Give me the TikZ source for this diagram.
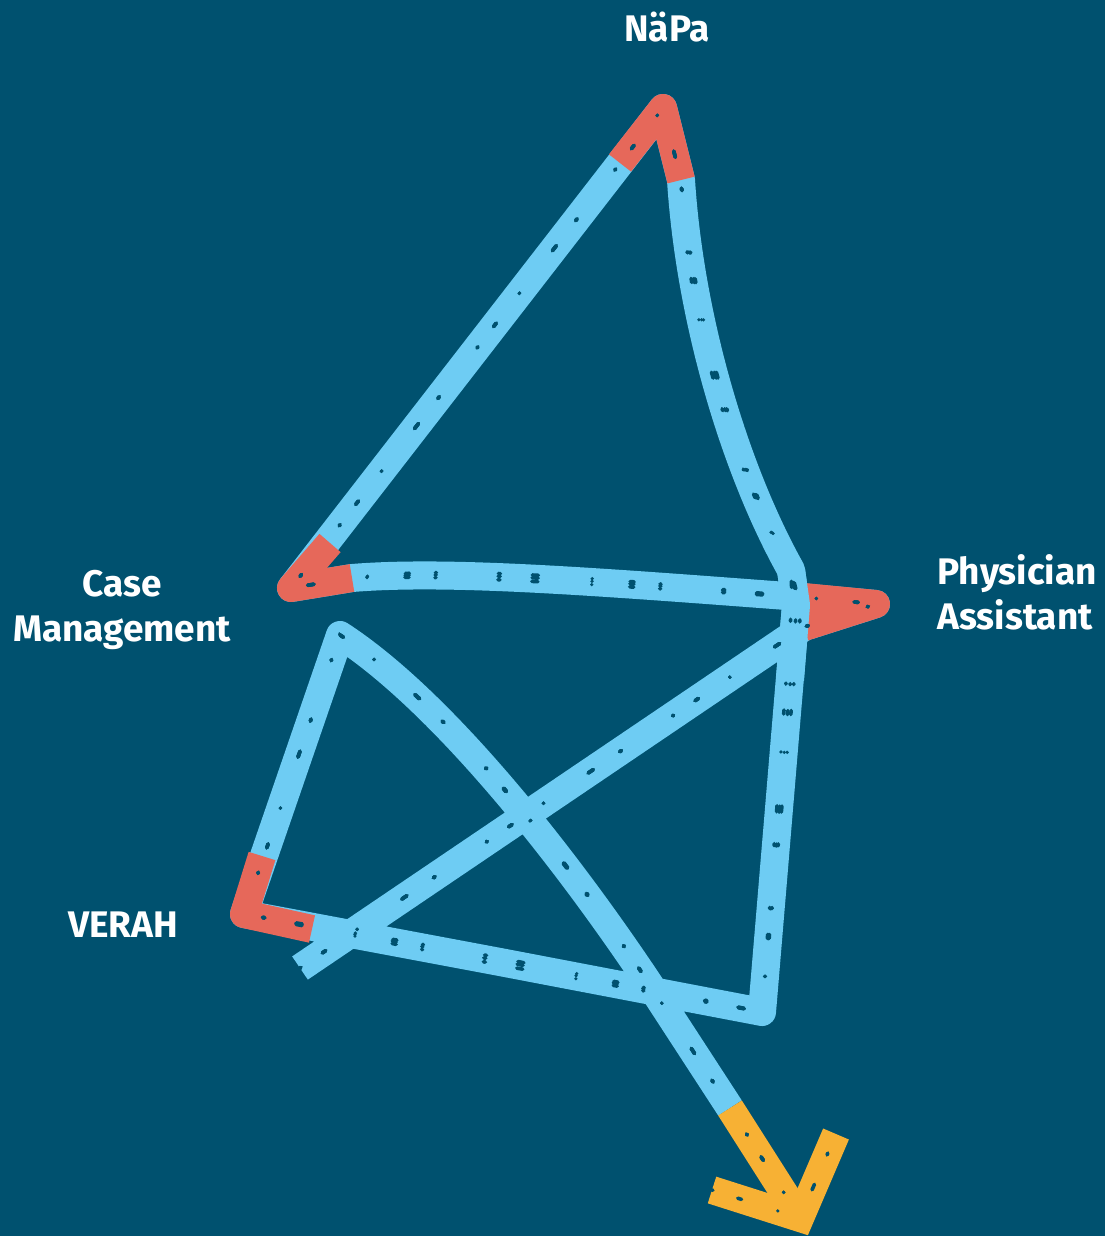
\documentclass[tikz,border=0pt]{standalone}
\usepackage{fontspec}
\setmainfont{Fira Sans}

\definecolor{board}{RGB}{0,81,111}
\definecolor{chalkblue}{RGB}{110,204,243}
\definecolor{chalkred}{RGB}{230,104,90}
\definecolor{chalkorange}{RGB}{247,177,52}

\tikzset{
    chalk/.style={line width=14pt, line join=round, line cap=butt},
    specks/.style={draw=board, line width=1.8pt, line cap=round,
        dash pattern=on 0.5pt off 13pt on 2pt off 19pt on 0pt off 27pt on 3pt off 16pt on 1pt off 31pt},
    rolename/.style={text=white, inner sep=0pt,
        font=\bfseries\fontsize{18.5}{22.5}\selectfont}
}

\begin{document}
\begin{tikzpicture}[x=0.5pt, y=-0.5pt]

    \fill[board] (0,0) rectangle (1105,1236);
    \useasboundingbox (0,0) rectangle (1105,1236);

    % corners of the zigzag
    \coordinate (start) at (300,968);
    \coordinate (pa) at (876,604);
    \coordinate (paup) at (800,597);
    \coordinate (cmin) at (352,578);
    \coordinate (cm) at (291,588);
    \coordinate (napa) at (663,108);
    \coordinate (bottom) at (762,1012);
    \coordinate (verah) at (244,914);
    \coordinate (vtop) at (340,635);
    \coordinate (tip) at (800,1218);

    % where the colour changes
    \coordinate (napaL) at (620,163);
    \coordinate (napaR) at (681,180);
    \coordinate (cmL) at (330,543);
    \coordinate (paL) at (804,627);
    \coordinate (paU) at (804,597);
    \coordinate (verahU) at (262,856);
    \coordinate (verahR) at (312,929);
    \coordinate (bend) at (650,985);
    \coordinate (turn) at (730,1108);
    \coordinate (armL) at (712,1190);
    \coordinate (armR) at (836,1134);
    \coordinate (pacross) at (791,570);

    % one long chalk line
    \def\zigzag{(start) -- (paL) -- (pa) -- (paup)
        .. controls (600,582) and (450,570) .. (cmin) -- (cm) -- (napa)
        -- (napaR) .. controls (690,320) and (735,470) .. (pacross)
        -- (796,605) -- (bottom) -- (500,962) -- (verah)
        -- (vtop) .. controls (440,700) and (560,850) .. (bend) -- (turn)}
    \draw[chalk, chalkblue] \zigzag;

    % red corners
    \draw[chalk, chalkred] (napaL) -- (napa) -- (napaR);
    \draw[chalk, chalkred] (cmL) -- (cm) -- (cmin);
    \draw[chalk, chalkred] (paL) -- (pa) -- (paU);
    \draw[chalk, chalkred] (verahU) -- (verah) -- (verahR);
    \draw[chalk, chalkblue] (pacross) -- (796,605) -- (790,680);

    % orange arrow
    \draw[chalk, chalkorange] (turn) -- (tip);
    \draw[chalk, chalkorange, line join=miter] (armL) -- (tip) -- (armR);

    % chalk grain
    \foreach \dx/\dy in {5/4, -4/-5, 1/-1} {
        \draw[specks, shift={(\dx,\dy)}] \zigzag -- (tip);
    }
    \draw[specks, shift={(3,-3)}] (armL) -- (tip) -- (armR);

    % labels
    \node[rolename] (napatext) at (667,27) {NäPa};
    \node[rolename, align=center] (cmtext) at (122,610) {Case\\Management};
    \node[rolename, align=left, anchor=west] (patext) at (937,592) {Physician\\Assistant};
    \node[rolename] (verahtext) at (123,925) {VERAH};

\end{tikzpicture}
\end{document}
